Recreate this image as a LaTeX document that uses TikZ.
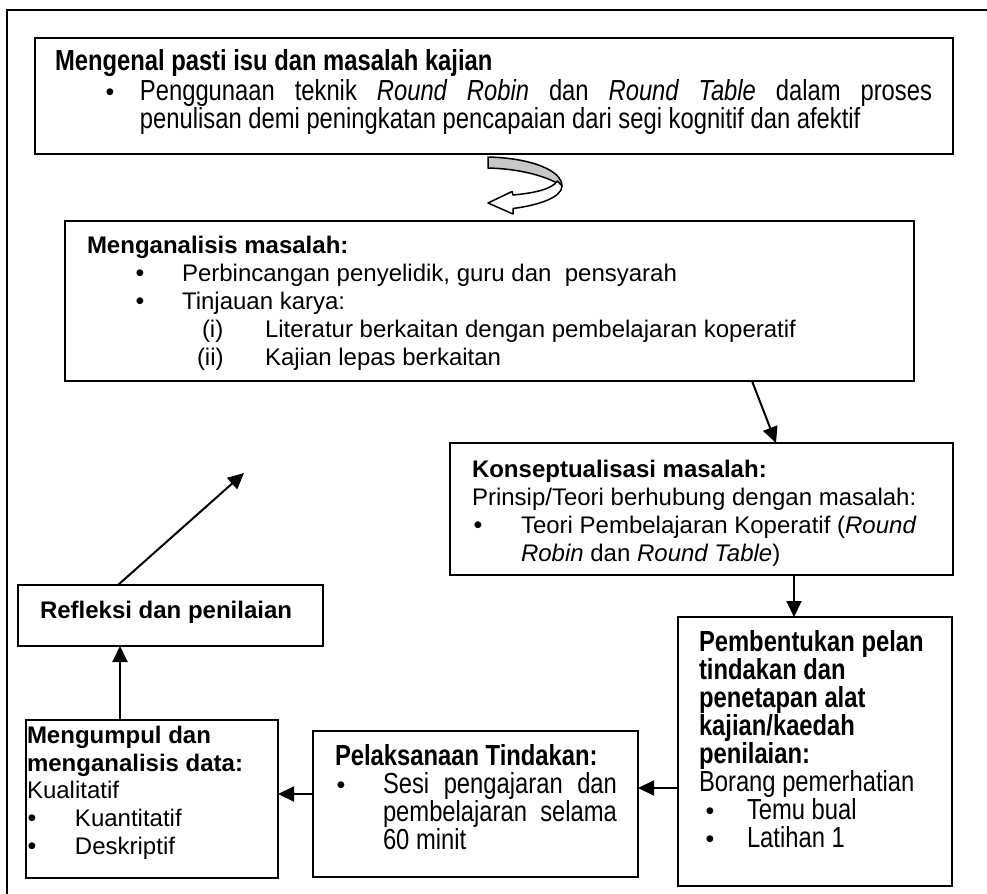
\documentclass[tikz,border=0pt]{standalone}
\usepackage{fontspec}
\setmainfont{Liberation Sans}
\newfontfamily\narrowfam{Liberation Sans}[FakeStretch=0.82]
\usetikzlibrary{arrows.meta}
\newcommand\regtxt{\fontsize{12pt}{13.8pt}\selectfont}
\newcommand\nartxt{\narrowfam\fontsize{14.5pt}{14.5pt}\selectfont}
\definecolor{ribbongray}{RGB}{200,200,200}
\begin{document}
\begin{tikzpicture}[x=0.5pt,y=-0.5pt,
  box/.style={draw, line width=1pt, inner sep=0pt, outer sep=0pt, rectangle},
  txt/.style={inner sep=0pt, outer sep=0pt, anchor=base west, font=\regtxt},
  ntxt/.style={inner sep=0pt, outer sep=0pt, anchor=base west, font=\nartxt},
  bul/.style={inner sep=0pt, outer sep=0pt, anchor=base, font=\fontsize{12.5pt}{13pt}\selectfont},
  arr/.style={line width=1pt, -{Triangle[length=8pt,width=7.5pt]}},
  ribbon/.style={line width=0.75pt, line join=round}
]
\useasboundingbox (0,0) rectangle (987,894);
% outer frame (cut by the page edges)
\draw[line width=1pt] (7,900) -- (7,10) -- (995,10);

% boxes
\node[box, minimum width=459pt, minimum height=58pt] (b1) at (494,96) {};
\node[box, minimum width=424.5pt, minimum height=80pt] (b2) at (489.5,301) {};
\node[box, minimum width=251.5pt, minimum height=66pt] (b3) at (701.5,509) {};
\node[box, minimum width=137pt, minimum height=134.5pt] (b4) at (815,751.5) {};
\node[box, minimum width=162.5pt, minimum height=73pt] (b5) at (475.5,804) {};
\node[box, minimum width=126pt, minimum height=79pt] (b6) at (152,799) {};
\node[box, minimum width=152.5pt, minimum height=30.5pt] (b7) at (170.5,615.5) {};

% box 1 text
\node[ntxt] (t1) at (55,70) {\bfseries Mengenal pasti isu dan masalah kajian};
\node[bul] (t1b) at (110,100) {•};
\node[ntxt] (t1l1) at (140,100) {\makebox[396pt][s]{Penggunaan teknik \textit{Round Robin} dan \textit{Round Table} dalam proses}};
\node[ntxt] (t1l2) at (140,128) {penulisan demi peningkatan pencapaian dari segi kognitif dan afektif};

% box 2 text
\node[txt] (t2) at (87,253) {\bfseries Menganalisis masalah:};
\node[bul] (t2b1) at (140,281) {•};
\node[txt] (t2l1) at (182,281) {Perbincangan penyelidik, guru dan~ pensyarah};
\node[bul] (t2b2) at (140,309) {•};
\node[txt] (t2l2) at (182,309) {Tinjauan karya:};
\node[txt] (t2i) at (202,337) {(i)};
\node[txt] (t2l3) at (265,337) {Literatur berkaitan dengan pembelajaran koperatif};
\node[txt] (t2ii) at (197,365) {(ii)};
\node[txt] (t2l4) at (265,365) {Kajian lepas berkaitan};

% box 3 text
\node[txt] (t3) at (472,477) {\bfseries Konseptualisasi masalah:};
\node[txt] (t3a) at (472,505) {Prinsip/Teori berhubung dengan masalah:};
\node[bul] (t3b) at (478,533) {•};
\node[txt] (t3l1) at (521,533) {Teori Pembelajaran Koperatif (\textit{Round}};
\node[txt] (t3l2) at (521,561) {\textit{Robin} dan \textit{Round Table})};

% box 4 text
\node[ntxt] (t4a) at (699,651) {\bfseries Pembentukan pelan};
\node[ntxt] (t4b) at (699,679) {\bfseries tindakan dan};
\node[ntxt] (t4c) at (699,707) {\bfseries penetapan alat};
\node[ntxt] (t4d) at (699,735) {\bfseries kajian/kaedah};
\node[ntxt] (t4e) at (699,763) {\bfseries penilaian:};
\node[ntxt] (t4f) at (699,791) {Borang pemerhatian};
\node[bul] (t4b1) at (710,819) {•};
\node[ntxt] (t4g) at (747,819) {Temu bual};
\node[bul] (t4b2) at (710,847) {•};
\node[ntxt] (t4h) at (747,847) {Latihan 1};

% box 5 text
\node[ntxt] (t5) at (335,765) {\bfseries Pelaksanaan Tindakan:};
\node[bul] (t5b) at (341,793) {•};
\node[ntxt] (t5l1) at (383,793) {\makebox[117pt][s]{Sesi pengajaran dan}};
\node[ntxt] (t5l2) at (383,821) {\makebox[117pt][s]{pembelajaran selama}};
\node[ntxt] (t5l3) at (383,849) {60 minit};

% box 6 text
\node[txt] (t6a) at (27,743) {\bfseries Mengumpul dan};
\node[txt] (t6b) at (27,771) {\bfseries menganalisis data:};
\node[txt] (t6c) at (27,798) {Kualitatif};
\node[bul] (t6b1) at (32,826) {•};
\node[txt] (t6d) at (75,826) {Kuantitatif};
\node[bul] (t6b2) at (32,854) {•};
\node[txt] (t6e) at (75,854) {Deskriptif};

% box 7 text
\node[txt] (t7) at (40,618) {\bfseries Refleksi dan penilaian};

% curved ribbon arrow between box 1 and box 2
\filldraw[ribbon, fill=ribbongray] (488,157) .. controls (530,158) and (562,170) .. (562,186)
  .. controls (550,178) and (525,169) .. (488,168) -- cycle;
\filldraw[ribbon, fill=white] (562,186) .. controls (562,197) and (540,205) .. (513,208.5)
  -- (513,214) -- (488,203) -- (512,191.5) -- (513,195)
  .. controls (535,193) and (552,189) .. (557.5,181) -- cycle;

% connectors
\draw[arr] ([xshift=343.5pt]b2.south west) -- ([xshift=163pt]b3.north west);
\draw[arr] ([xshift=46.25pt]b3.south) -- ([xshift=46.25pt]b3.south |- b4.north);
\draw[arr] ([yshift=-18.25pt]b4.west) -- ([yshift=-18.25pt]b4.west -| b5.east);
\draw[arr] ([yshift=5pt]b5.west) -- ([yshift=5pt]b5.west -| b6.east);
\draw[arr] ([xshift=-16pt]b6.north) -- ([xshift=-16pt]b6.north |- b7.south);
\coordinate (reftip) at (244,473);
\draw[arr] ([xshift=-26.25pt]b7.north) -- (reftip);
\end{tikzpicture}
\end{document}
